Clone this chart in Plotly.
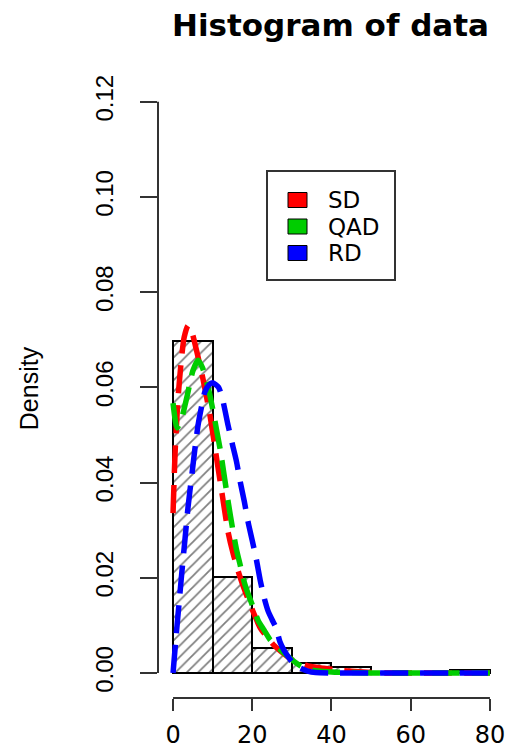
import plotly.graph_objects as go

# ---- data ----
bin_edges = [0, 10, 20, 30, 40, 50, 60, 70, 80]
bin_density = [0.0697, 0.0202, 0.0053, 0.0022, 0.0013, 0.0, 0.0, 0.0006]

sd_x = [0, 0.5, 1.2, 2, 2.8, 3.8, 4.8, 6, 7.5, 9.35, 11.2, 12.5, 13.9, 15.2, 16.6, 18.5, 20.4, 22, 23.5,
        25.5, 27, 30, 34, 38, 42, 46, 50, 55, 60, 70, 80]
sd_y = [0.0336, 0.046, 0.057, 0.065, 0.0705, 0.073, 0.0715, 0.0675, 0.062, 0.054, 0.044, 0.037, 0.0296,
        0.025, 0.021, 0.0165, 0.0125, 0.0095, 0.0078, 0.0058, 0.0047, 0.0028, 0.0015, 0.001, 0.0006,
        0.0003, 0.0001, 0, 0, 0, 0]

qad_x = [0, 1, 2, 3.5, 5, 6.3, 7.5, 9, 10, 11, 12, 13, 14, 15, 16, 17, 18, 19, 20, 21.5, 23, 24.5, 26,
         28, 30, 32, 34, 36, 40, 45, 50, 60, 70, 80]
qad_y = [0.0567, 0.0515, 0.053, 0.058, 0.0635, 0.0657, 0.064, 0.0595, 0.0555, 0.051, 0.0465, 0.041,
         0.0355, 0.0305, 0.026, 0.0225, 0.019, 0.0165, 0.0143, 0.011, 0.009, 0.007, 0.0058, 0.0042,
         0.0028, 0.0016, 0.0008, 0.0005, 0.0002, 0.0001, 0, 0, 0, 0]

rd_x = [0, 0.8, 1.5, 2.2, 3.0, 3.8, 4.8, 5.5, 6.3, 7.2, 8.0, 9.0, 10, 11.5, 12.5, 13.9, 15, 16, 17, 18,
        19, 20, 21, 22, 23, 24, 25, 26, 27, 28, 29, 30, 32, 34, 36, 40, 50, 60, 70, 80]
rd_y = [0.0, 0.008, 0.0145, 0.021, 0.028, 0.035, 0.042, 0.047, 0.052, 0.056, 0.059, 0.0605, 0.061, 0.06,
        0.0575, 0.052, 0.048, 0.0445, 0.040, 0.036, 0.0315, 0.0278, 0.024, 0.0195, 0.0158, 0.013,
        0.0112, 0.0095, 0.0065, 0.0048, 0.0035, 0.0024, 0.0011, 0.0004, 0.0001, 0, 0, 0, 0, 0]

x_ticks = [0, 20, 40, 60, 80]
y_ticks = [0.00, 0.02, 0.04, 0.06, 0.08, 0.10, 0.12]
y_ticklabels = ["0.00", "0.02", "0.04", "0.06", "0.08", "0.10", "0.12"]
legend_labels = ["SD", "QAD", "RD"]
legend_colors = ["#FF0000", "#00CD00", "#0000FF"]

# ---- figure ----
W, H = 509, 750
ML, MR, MT, MB = 158, 6, 79, 52
pw, ph = W - ML - MR, H - MT - MB

centers = [(a + b) / 2 for a, b in zip(bin_edges[:-1], bin_edges[1:])]
widths = [b - a for a, b in zip(bin_edges[:-1], bin_edges[1:])]

fig = go.Figure()
fig.add_trace(go.Bar(
    x=centers, y=bin_density, width=widths, showlegend=False, name="data",
    marker=dict(color="white", line=dict(color="black", width=2),
                pattern=dict(shape="/", fgcolor="black", bgcolor="white", size=8, solidity=0.22)),
))

dash = "28px,12px"
for nm, xs, ys, col in [("SD", sd_x, sd_y, legend_colors[0]),
                        ("QAD", qad_x, qad_y, legend_colors[1]),
                        ("RD", rd_x, rd_y, legend_colors[2])]:
    fig.add_trace(go.Scatter(x=xs, y=ys, mode="lines", name=nm, showlegend=False,
                             line=dict(color=col, width=5.5, dash=dash, shape="spline", smoothing=0.6)))

# axis lines (R style: only between first and last tick)
fig.add_shape(type="line", xref="x", yref="paper", x0=x_ticks[0], x1=x_ticks[-1], y0=0, y1=0,
              line=dict(color="#333333", width=2))
fig.add_shape(type="line", xref="paper", yref="y", x0=0, x1=0, y0=y_ticks[0], y1=y_ticks[-1],
              line=dict(color="#333333", width=2))

# legend box (R style)
def px2paper_x(px):
    return (px - ML) / pw

def py2paper_y(py):
    return (H - MB - py) / ph

fig.add_shape(type="rect", xref="paper", yref="paper",
              x0=px2paper_x(267), x1=px2paper_x(395), y0=py2paper_y(280), y1=py2paper_y(171),
              line=dict(color="#333333", width=2), fillcolor="rgba(0,0,0,0)")
row_y = [200, 226.5, 253]
for lab, col, ry in zip(legend_labels, legend_colors, row_y):
    fig.add_shape(type="rect", xref="paper", yref="paper",
                  x0=px2paper_x(288), x1=px2paper_x(307), y0=py2paper_y(ry + 7.5), y1=py2paper_y(ry - 7.5),
                  line=dict(color="black", width=1), fillcolor=col)
    fig.add_annotation(xref="paper", yref="paper", x=px2paper_x(326), y=py2paper_y(ry),
                       text=lab, showarrow=False, xanchor="left", yanchor="middle",
                       font=dict(family="DejaVu Sans", size=23, color="black"))

fig.update_layout(
    width=W, height=H,
    margin=dict(l=ML, r=MR, t=MT, b=MB, autoexpand=False),
    paper_bgcolor="white", plot_bgcolor="white",
    bargap=0,
    title=dict(text="<b>Histogram of data</b>", x=0.5, xref="paper", xanchor="center",
               y=1 - 25 / H, yref="container", yanchor="middle",
               font=dict(family="DejaVu Sans", size=31, color="black")),
    xaxis=dict(range=[-3.8, 83.3], showgrid=False, zeroline=False, showline=False, automargin=False,
               tickmode="array", tickvals=x_ticks, ticktext=[str(v) for v in x_ticks],
               ticks="outside", ticklen=12, tickwidth=2, tickcolor="#333333",
               ticklabelstandoff=3,
               tickfont=dict(family="DejaVu Sans", size=24, color="black")),
    yaxis=dict(range=[-0.00525, 0.1248], showgrid=False, zeroline=False, showline=False, automargin=False,
               tickmode="array", tickvals=y_ticks, ticktext=y_ticklabels, tickangle=-90,
               ticks="outside", ticklen=17, tickwidth=2, tickcolor="#333333",
               ticklabelstandoff=17,
               tickfont=dict(family="Liberation Sans", size=24, color="black"),
               title=dict(text="Density", standoff=45,
                          font=dict(family="Liberation Sans", size=25, color="black"))),
)

fig.write_html("out.html")
